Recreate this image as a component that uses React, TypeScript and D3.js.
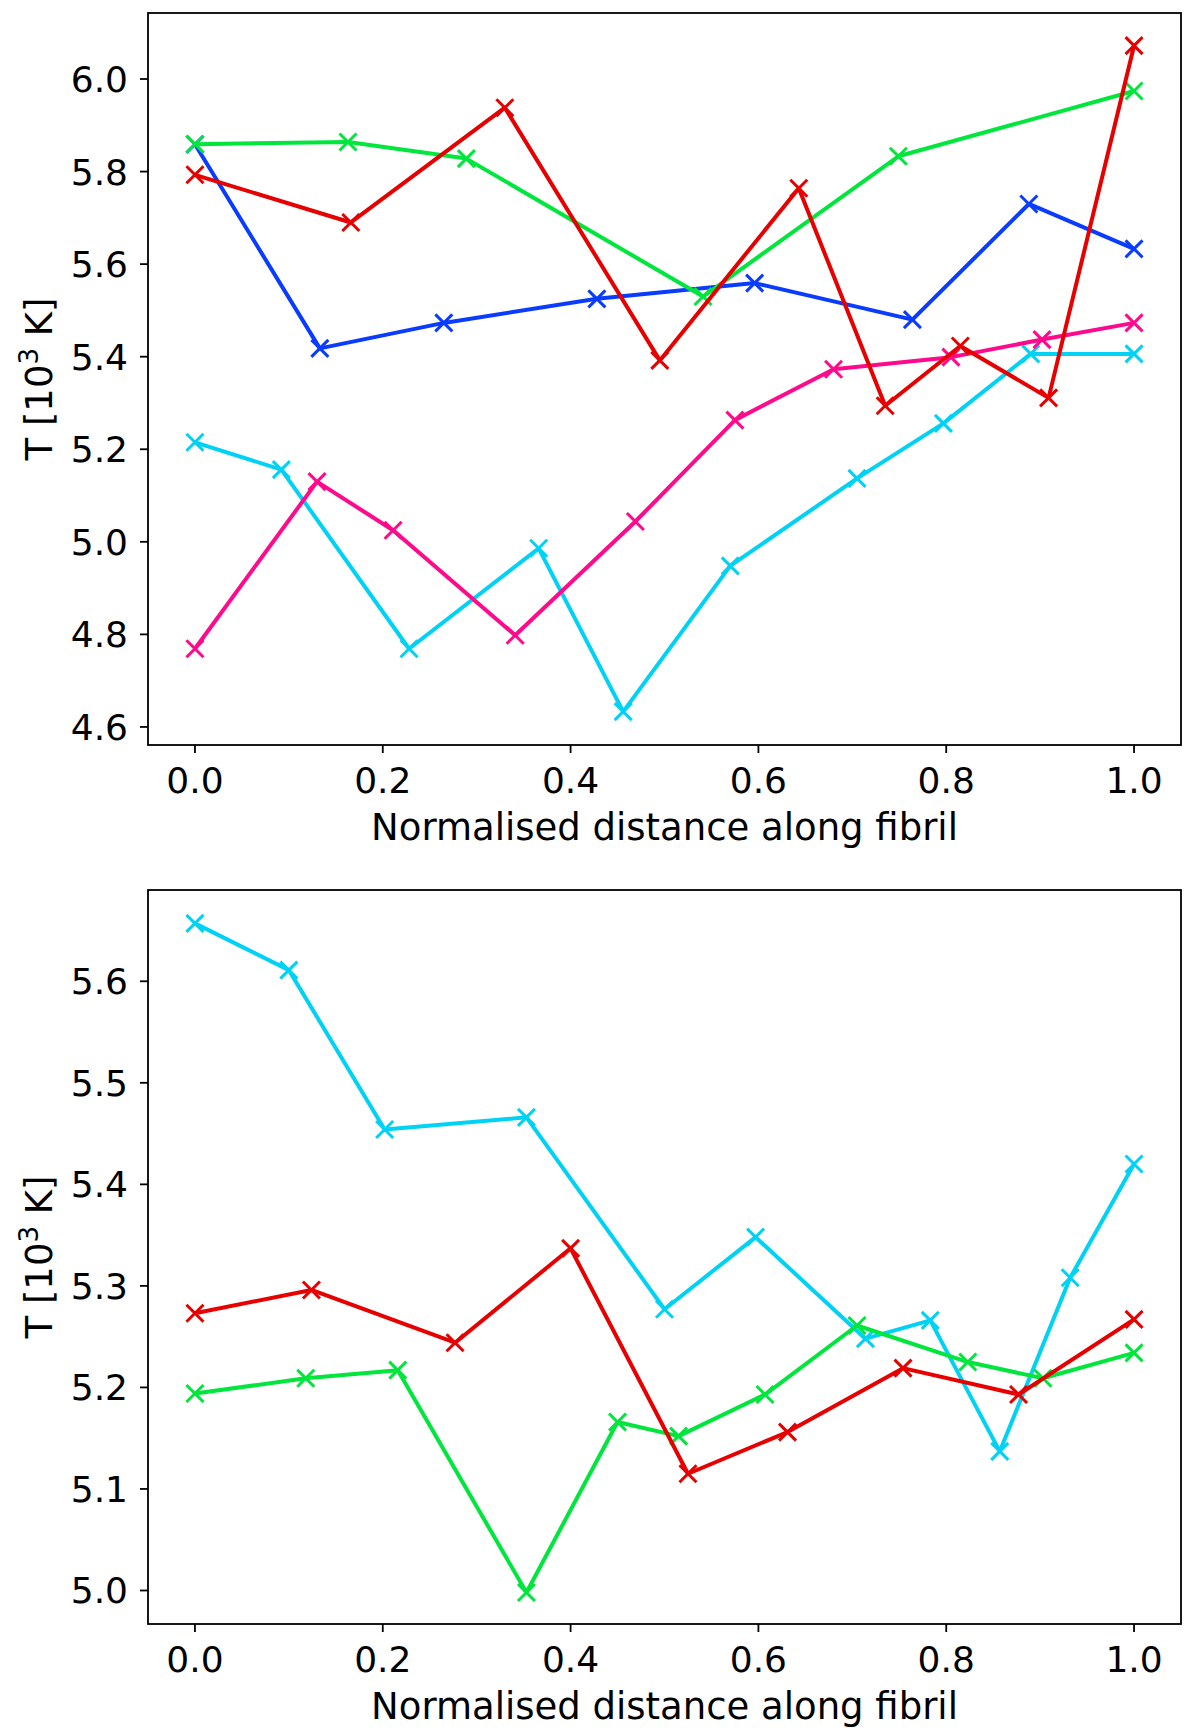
import * as d3 from "d3";

// top panel series (normalised distance, T in 10^3 K)
const topBlueX = [0, 0.133, 0.265, 0.428, 0.596, 0.764, 0.888, 1.0];
const topBlueY = [5.859, 5.418, 5.473, 5.525, 5.559, 5.48, 5.73, 5.633];
const topGreenX = [0, 0.163, 0.289, 0.541, 0.749, 1.0];
const topGreenY = [5.859, 5.864, 5.828, 5.53, 5.833, 5.974];
const topRedX = [0, 0.166, 0.33, 0.495, 0.643, 0.735, 0.815, 0.909, 1.0];
const topRedY = [5.793, 5.69, 5.938, 5.392, 5.764, 5.294, 5.423, 5.311, 6.072];
const topPinkX = [0, 0.13, 0.211, 0.341, 0.469, 0.575, 0.68, 0.805, 0.902, 1.0];
const topPinkY = [4.769, 5.13, 5.025, 4.798, 5.044, 5.263, 5.373, 5.399, 5.437, 5.473];
const topCyanX = [0, 0.092, 0.228, 0.366, 0.456, 0.57, 0.705, 0.797, 0.89, 1.0];
const topCyanY = [5.215, 5.156, 4.769, 4.986, 4.633, 4.948, 5.137, 5.256, 5.406, 5.406];

// bottom panel series
const botCyanX = [0, 0.1, 0.202, 0.353, 0.5, 0.597, 0.714, 0.783, 0.857, 0.932, 1.0];
const botCyanY = [5.657, 5.611, 5.454, 5.466, 5.277, 5.348, 5.248, 5.266, 5.137, 5.308, 5.42];
const botGreenX = [0, 0.118, 0.216, 0.353, 0.45, 0.515, 0.607, 0.705, 0.823, 0.903, 1.0];
const botGreenY = [5.194, 5.209, 5.217, 4.998, 5.166, 5.152, 5.193, 5.261, 5.225, 5.209, 5.234];
const botRedX = [0, 0.124, 0.277, 0.4, 0.525, 0.631, 0.754, 0.877, 1.0];
const botRedY = [5.273, 5.296, 5.244, 5.337, 5.115, 5.156, 5.219, 5.193, 5.267];

const xTicks = [0, 0.2, 0.4, 0.6, 0.8, 1.0];
const topYTicks = [4.6, 4.8, 5.0, 5.2, 5.4, 5.6, 5.8, 6.0];
const botYTicks = [5.0, 5.1, 5.2, 5.3, 5.4, 5.5, 5.6];

const BLUE = "#0a3cff";
const GREEN = "#00e63c";
const RED = "#e60000";
const PINK = "#ff0a8c";
const CYAN = "#00d2f5";

const FONT = "DejaVu Sans, sans-serif";

interface Series { xs: number[]; ys: number[]; color: string }

interface PanelProps {
    top: number;
    bottom: number;
    yDomain: [number, number];
    yTicks: number[];
    series: Series[];
}

const LEFT = 148;
const RIGHT = 1181;

function Panel({ top, bottom, yDomain, yTicks, series }: PanelProps) {
    const x = d3.scaleLinear().domain([-0.05, 1.05]).range([LEFT, RIGHT]);
    const y = d3.scaleLinear().domain(yDomain).range([bottom, top]);
    const line = d3.line<[number, number]>()
        .x((d) => x(d[0]))
        .y((d) => y(d[1]));
    const m = 8.5;

    return (
        <g>
            {series.map((s, i) => {
                const pts = s.xs.map((v, j) => [v, s.ys[j]] as [number, number]);
                return (
                    <g key={i}>
                        <path d={line(pts) || ""} fill="none" stroke={s.color} strokeWidth={4} strokeLinejoin="round" />
                        {pts.map((p, j) => (
                            <path key={j}
                                d={`M${x(p[0]) - m},${y(p[1]) - m}L${x(p[0]) + m},${y(p[1]) + m}M${x(p[0]) - m},${y(p[1]) + m}L${x(p[0]) + m},${y(p[1]) - m}`}
                                stroke={s.color} strokeWidth={3} fill="none" />
                        ))}
                    </g>
                );
            })}
            <rect x={LEFT} y={top} width={RIGHT - LEFT} height={bottom - top} fill="none" stroke="#000" strokeWidth={1.8} />
            {xTicks.map((t) => (
                <g key={t}>
                    <line x1={x(t)} x2={x(t)} y1={bottom} y2={bottom + 8} stroke="#000" strokeWidth={1.8} />
                    <text x={x(t)} y={bottom + 48} textAnchor="middle" fontSize={36} fontFamily={FONT} fill="#000">
                        {t.toFixed(1)}
                    </text>
                </g>
            ))}
            {yTicks.map((t) => (
                <g key={t}>
                    <line x1={LEFT - 8} x2={LEFT} y1={y(t)} y2={y(t)} stroke="#000" strokeWidth={1.8} />
                    <text x={LEFT - 20} y={y(t)} dy="0.36em" textAnchor="end" fontSize={36} fontFamily={FONT} fill="#000">
                        {t.toFixed(1)}
                    </text>
                </g>
            ))}
            <text x={(LEFT + RIGHT) / 2} y={bottom + 95} textAnchor="middle" fontSize={37} fontFamily={FONT} fill="#000">
                Normalised distance along fibril
            </text>
            <text transform={`translate(52,${(top + bottom) / 2}) rotate(-90)`} textAnchor="middle" fontSize={37} fontFamily={FONT} fill="#000">
                T [10<tspan fontSize={26} dy={-14}>3</tspan><tspan dy={14}> K]</tspan>
            </text>
        </g>
    );
}

export default function App() {
    const topSeries: Series[] = [
        { xs: topCyanX, ys: topCyanY, color: CYAN },
        { xs: topPinkX, ys: topPinkY, color: PINK },
        { xs: topBlueX, ys: topBlueY, color: BLUE },
        { xs: topGreenX, ys: topGreenY, color: GREEN },
        { xs: topRedX, ys: topRedY, color: RED },
    ];
    const botSeries: Series[] = [
        { xs: botCyanX, ys: botCyanY, color: CYAN },
        { xs: botGreenX, ys: botGreenY, color: GREEN },
        { xs: botRedX, ys: botRedY, color: RED },
    ];
    return (
        <svg width={1200} height={1735} style={{ position: "absolute", left: 0, top: 0, background: "#fff" }}>
            <rect width={1200} height={1735} fill="#fff" />
            <Panel top={13} bottom={745} yDomain={[4.561, 6.1426]} yTicks={topYTicks} series={topSeries} />
            <Panel top={890} bottom={1624} yDomain={[4.967, 5.6899]} yTicks={botYTicks} series={botSeries} />
        </svg>
    );
}
